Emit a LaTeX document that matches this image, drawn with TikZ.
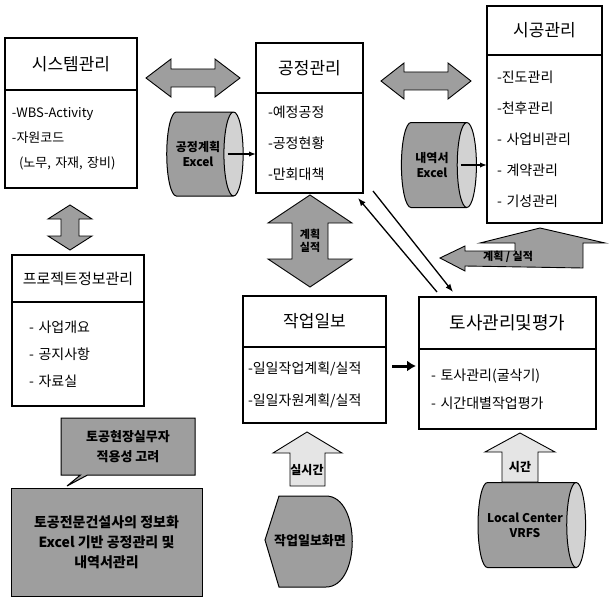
\documentclass[tikz,border=0pt]{standalone}
\usepackage{fontspec}
\setmainfont{Noto Sans CJK KR}
\usepackage{tikz}
\usetikzlibrary{
  calc,positioning,shapes.geometric,shapes.callouts,
  arrows.meta
}
\definecolor{shadegray}{gray}{0.62}
\definecolor{lightgray}{gray}{0.9}
\tikzset{
  boxtitle/.style={draw,line width=1.5pt,outer sep=0pt,inner sep=0pt,fill=white,
    font=\fontsize{17}{20}\selectfont},
  boxbody/.style={draw,line width=1.5pt,outer sep=0pt,inner ysep=0pt,align=left,fill=white},
  blockarrow/.style={draw,line width=0.9pt,fill=shadegray},
  lightarrow/.style={draw,line width=0.9pt,fill=lightgray},
  datacyl/.style={cylinder,draw,line width=1pt,aspect=0.6,cylinder uses custom fill,
    cylinder body fill=shadegray,cylinder end fill=gray!35,align=center,
    font=\fontsize{12}{15}\selectfont\bfseries},
  graybox/.style={draw,line width=1pt,fill=shadegray,align=center,
    font=\fontsize{14}{20}\selectfont\bfseries},
  arrowlabel/.style={align=center,inner sep=0pt,font=\fontsize{11}{13}\selectfont\bfseries}
}
\begin{document}
\begin{tikzpicture}[x=1pt,y=-1pt]
\useasboundingbox (0,0) rectangle (612,599);

\draw[blockarrow] (146,78)--(171,59)--(171,69)--(215,69)--(215,59)--(240,78)--(215,97)--(215,87)--(171,87)--(171,97)--cycle;
\draw[blockarrow] (381,81)--(404,63)--(404,72)--(448,72)--(448,63)--(471,81)--(448,99)--(448,90)--(404,90)--(404,99)--cycle;
\draw[blockarrow] (70,205)--(92,219)--(79,219)--(79,236)--(92,236)--(70,250)--(48,236)--(61,236)--(61,219)--(48,219)--cycle;
\draw[blockarrow] (310,195)--(352,223)--(328,223)--(328,259)--(352,259)--(310,287)--(268,259)--(292,259)--(292,223)--(268,223)--cycle;
\node[arrowlabel] (planact) at (310,241) {계획\\실적};
\draw[blockarrow] (440,258)--(465,246)--(465,251)--(515,251)--(515,243)--(480,243)--(540,228)--(605,243)--(583,243)--(583,268)--(465,266)--(465,271)--cycle;
\node[arrowlabel] (planact2) at (508,257) {계획 / 실적};

\node[boxtitle,minimum width=132,minimum height=52] (sys) at (71,64) {시스템관리};
\node[boxbody,below=0pt of sys,minimum height=98,text width=118,inner xsep=7pt,
  font=\fontsize{13}{25}\selectfont] (sysbody) {-WBS-Activity\\-자원코드\\\hspace*{7pt}(노무, 자재, 장비)};

\node[boxtitle,minimum width=107,minimum height=50] (proc) at (309.5,68) {공정관리};
\node[boxbody,below=0pt of proc,minimum height=100,text width=83,inner xsep=12pt,
  font=\fontsize{14}{31}\selectfont] (procbody) {-예정공정\\-공정현황\\-만회대책};

\node[boxtitle,minimum width=115,minimum height=49] (cons) at (544.5,30.5) {시공관리};
\node[boxbody,below=0pt of cons,minimum height=168,text width=95,inner xsep=10pt,
  font=\fontsize{14}{31}\selectfont] (consbody) {-진도관리\\-천후관리\\- 사업비관리\\- 계약관리\\- 기성관리};

\node[boxtitle,minimum width=132,minimum height=47,font=\fontsize{15}{18}\selectfont] (proj) at (78,278.5) {프로젝트정보관리};
\node[boxbody,below=0pt of proj,minimum height=104,text width=98,inner xsep=17pt,
  font=\fontsize{14}{27}\selectfont] (projbody) {- 사업개요\\- 공지사항\\- 자료실};

\node[boxtitle,minimum width=143,minimum height=51] (report) at (314.5,321.5) {작업일보};
\node[boxbody,below=0pt of report,minimum height=76,text width=133,inner xsep=5pt,
  font=\fontsize{14}{32}\selectfont] (reportbody) {-일일작업계획/실적\\-일일자원계획/실적};

\node[boxtitle,minimum width=177,minimum height=52,font=\fontsize{18}{21}\selectfont] (soil) at (507.5,323) {토사관리및평가};
\node[boxbody,below=0pt of soil,minimum height=80,text width=153,inner xsep=12pt,
  font=\fontsize{14}{28}\selectfont] (soilbody) {- 토사관리(굴삭기)\\- 시간대별작업평가};

\node[datacyl,minimum width=84,minimum height=72] (plan) at (198,154) {공정계획\\Excel};
\node[datacyl,minimum width=85,minimum height=75] (bill) at (432,165) {내역서\\Excel};
\node[datacyl,minimum width=85,minimum height=75] (vrs) at (525,525) {Local Center\\VRFS};

\draw[-{Latex[length=7pt]},line width=1.3pt] ([xshift=-16pt]plan.east) -- (plan.east -| procbody.west);
\draw[-{Latex[length=7pt]},line width=1.3pt] ([xshift=-16pt]bill.east) -- (bill.east -| consbody.west);
\draw[-{Latex[length=8pt]},line width=1.3pt] ($(soil.north west)+(18,-5)$) -- ($(procbody.south east)+(-5,5)$);
\draw[-{Latex[length=8pt]},line width=1.3pt] ($(procbody.south east)+(10,-2)$) -- ($(soil.north west)+(34,-5)$);
\draw[-{Latex[length=9pt,width=11pt]},line width=3pt] ($(reportbody.north east)+(6,19)$) coordinate (rep1) -- ([xshift=-3pt]soilbody.west |- rep1);

\draw[lightarrow] (307,432)--(342,453)--(325,453)--(325,486)--(290,486)--(290,453)--(273,453)--cycle;
\node[arrowlabel,font=\fontsize{12}{14}\selectfont\bfseries] (rt1) at (307,470) {실시간};
\draw[lightarrow] (520,433)--(555,452)--(538,452)--(538,482)--(502,482)--(502,452)--(485,452)--cycle;
\node[arrowlabel,font=\fontsize{12}{14}\selectfont\bfseries] (rt2) at (520,467) {시간};

\draw[line width=1pt,fill=shadegray] (279,496) -- (326,496) .. controls (361,496) and (361,587) .. (326,587) -- (279,587) -- (265,540) -- cycle;
\node[arrowlabel,font=\fontsize{13}{15}\selectfont\bfseries] (screen) at (310,541) {작업일보화면};

\node[graybox,rectangle callout,callout absolute pointer={(67,486)},minimum width=134,minimum height=57,
  font=\fontsize{13}{20}\selectfont\bfseries] (hint) at (128,446.5) {토공현장실무자\\적용성 고려};
\node[graybox,minimum width=191,minimum height=108] (summary) at (106.5,542) {토공전문건설사의 정보화\\Excel 기반 공정관리 및\\내역서관리};
\end{tikzpicture}
\end{document}
